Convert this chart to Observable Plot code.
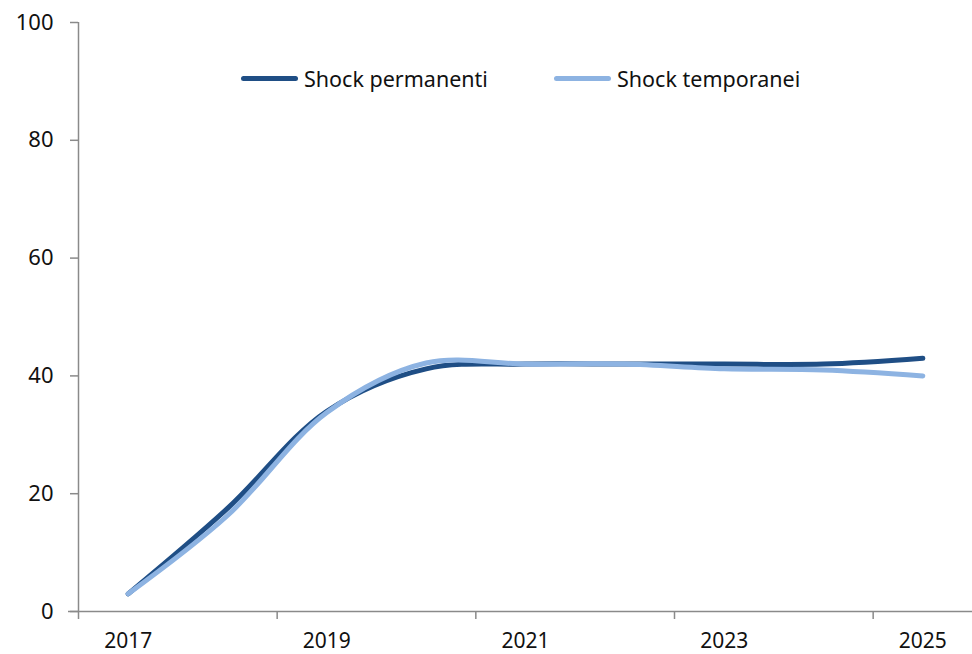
<!DOCTYPE html>
<html>
<head>
<meta charset="utf-8">
<script src="https://cdn.jsdelivr.net/npm/d3@7"></script>
<script src="https://cdn.jsdelivr.net/npm/@observablehq/plot@0.6"></script>
<style>
  html, body { margin: 0; padding: 0; background: #fff; }
  #wrap { position: relative; width: 972px; height: 654px; font-family: "Noto Sans", sans-serif; }
  #legend { position: absolute; left: 0; top: 0; width: 972px; height: 0; }
  .item { position: absolute; top: 64px; display: flex; align-items: center; font-size: 21.5px; color: #111; white-space: nowrap; }
  .sw { display: inline-block; width: 57px; height: 5px; border-radius: 3px; margin-right: 6px; }
</style>
</head>
<body>
<div id="wrap"><div id="legend"></div></div>
<script>
const years = [2017, 2018, 2019, 2020, 2021, 2022, 2023, 2024, 2025];
const seriesNames = ["Shock permanenti", "Shock temporanei"];
const permanenti = [3, 17.5, 34, 41.2, 42, 42, 42, 42, 43];
const temporanei = [3, 16.3, 33.8, 42.2, 42, 42, 41.2, 41, 40];
const seriesColors = ["#1f4e85", "#8db3e2"];
const yTicks = [0, 20, 40, 60, 80, 100];
const xLabelYears = [2017, 2019, 2021, 2023, 2025];
const xTickPositions = [2016.5, 2018.5, 2020.5, 2022.5, 2024.5];

const data = [];
years.forEach((yr, i) => {
  data.push({year: yr, value: permanenti[i], series: seriesNames[0]});
  data.push({year: yr, value: temporanei[i], series: seriesNames[1]});
});

const axisColor = "#8a8a8a";

const chart = Plot.plot({
  width: 972,
  height: 654,
  marginLeft: 68,
  marginRight: 0,
  marginTop: 22,
  marginBottom: 43,
  style: {fontFamily: "Noto Sans, sans-serif", fontSize: "21px", color: "#111", background: "#fff"},
  x: {type: "linear", domain: [2016.5, 2025.5], range: [78, 972]},
  y: {domain: [0, 100]},
  color: {domain: seriesNames, range: seriesColors},
  marks: [
    Plot.ruleY([0], {stroke: axisColor, strokeWidth: 1.5}),
    Plot.ruleX([2016.5], {stroke: axisColor, strokeWidth: 1.5}),
    Plot.axisY({ticks: yTicks, tickSize: 8, tickPadding: 17, dx: 10, stroke: axisColor, strokeWidth: 1.5, fill: "#111", fontSize: 22, label: null}),
    Plot.axisX({ticks: xTickPositions, tickSize: 8, tickFormat: () => "", stroke: axisColor, strokeWidth: 1.5, label: null}),
    Plot.axisX({ticks: xLabelYears, tickSize: 0, tickPadding: 22, tickFormat: d => String(d), fill: "#111", label: null}),
    Plot.line(data, {x: "year", y: "value", z: "series", stroke: "series", curve: "catmull-rom", strokeWidth: 5, strokeLinecap: "round", strokeLinejoin: "round"})
  ]
});

document.getElementById("wrap").prepend(chart);

const legend = document.getElementById("legend");
const legendLefts = [241, 554];
seriesNames.forEach((name, i) => {
  const item = document.createElement("div");
  item.className = "item";
  item.style.left = legendLefts[i] + "px";
  const sw = document.createElement("span");
  sw.className = "sw";
  sw.style.background = seriesColors[i];
  item.appendChild(sw);
  item.appendChild(document.createTextNode(name));
  legend.appendChild(item);
});
</script>
</body>
</html>
